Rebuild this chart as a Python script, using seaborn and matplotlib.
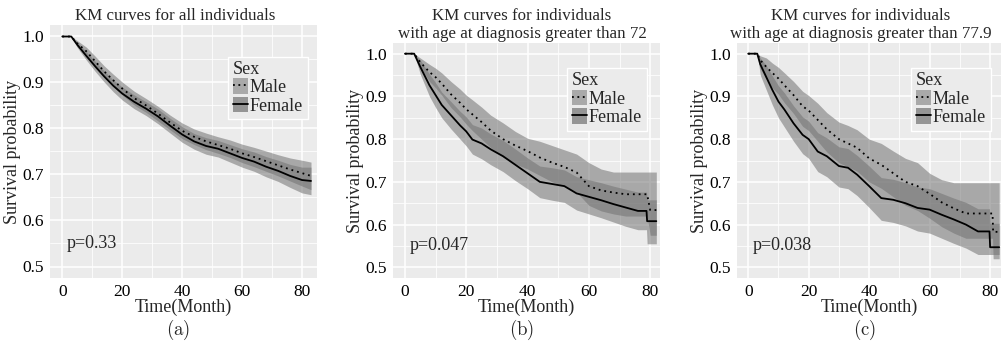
import numpy as np
import pandas as pd
import matplotlib
matplotlib.use("Agg")
import matplotlib.pyplot as plt
import seaborn as sns
from matplotlib.patches import Patch
from matplotlib.lines import Line2D
from matplotlib.legend_handler import HandlerTuple
from matplotlib.ticker import MultipleLocator

# ---- data ----
a_time = [0, 3, 5, 8, 11, 14, 17, 20, 24, 28, 32, 36, 40, 44, 48, 52, 56, 60, 64, 68, 72, 76, 80, 83]
a_female = [1, 1, 0.982, 0.958, 0.935, 0.913, 0.893, 0.876, 0.858, 0.843, 0.826, 0.806, 0.787, 0.772, 0.762, 0.756, 0.746, 0.736, 0.728, 0.717, 0.708, 0.697, 0.688, 0.686]
a_female_lo = [1, 1, 0.976, 0.949, 0.924, 0.901, 0.880, 0.862, 0.843, 0.828, 0.810, 0.790, 0.770, 0.755, 0.744, 0.738, 0.727, 0.716, 0.707, 0.695, 0.685, 0.672, 0.660, 0.656]
a_female_hi = [1, 1, 0.988, 0.967, 0.946, 0.925, 0.906, 0.890, 0.873, 0.858, 0.842, 0.822, 0.804, 0.789, 0.780, 0.774, 0.765, 0.756, 0.749, 0.739, 0.731, 0.722, 0.716, 0.716]
a_male = [1, 1, 0.985, 0.968, 0.946, 0.924, 0.905, 0.887, 0.866, 0.850, 0.832, 0.813, 0.795, 0.782, 0.772, 0.764, 0.756, 0.746, 0.738, 0.729, 0.720, 0.711, 0.703, 0.697]
a_male_lo = [1, 1, 0.979, 0.959, 0.935, 0.912, 0.892, 0.873, 0.851, 0.835, 0.816, 0.797, 0.778, 0.765, 0.754, 0.746, 0.737, 0.726, 0.717, 0.707, 0.697, 0.686, 0.675, 0.667]
a_male_hi = [1, 1, 0.991, 0.977, 0.957, 0.936, 0.918, 0.901, 0.881, 0.865, 0.848, 0.829, 0.812, 0.799, 0.790, 0.782, 0.775, 0.766, 0.759, 0.751, 0.743, 0.736, 0.731, 0.727]

b_time = [0, 3, 5, 8, 10, 12, 15, 18, 20, 22, 25, 28, 32, 36, 40, 44, 48, 52, 56, 60, 64, 68, 72, 76, 78.8, 79, 80, 82]
b_female = [1, 1, 0.969, 0.926, 0.903, 0.880, 0.856, 0.832, 0.818, 0.799, 0.790, 0.776, 0.760, 0.740, 0.720, 0.700, 0.695, 0.690, 0.673, 0.665, 0.657, 0.648, 0.640, 0.632, 0.632, 0.608, 0.608, 0.608]
b_female_lo = [1, 1, 0.952, 0.900, 0.874, 0.850, 0.824, 0.800, 0.784, 0.765, 0.754, 0.740, 0.724, 0.703, 0.684, 0.663, 0.657, 0.652, 0.634, 0.625, 0.616, 0.606, 0.596, 0.588, 0.588, 0.555, 0.555, 0.555]
b_female_hi = [1, 1, 0.985, 0.952, 0.932, 0.910, 0.888, 0.865, 0.852, 0.834, 0.826, 0.812, 0.797, 0.777, 0.756, 0.737, 0.733, 0.728, 0.712, 0.705, 0.698, 0.690, 0.683, 0.676, 0.676, 0.658, 0.658, 0.658]
b_male = [1, 1, 0.980, 0.957, 0.945, 0.930, 0.905, 0.885, 0.870, 0.858, 0.840, 0.820, 0.800, 0.785, 0.772, 0.757, 0.745, 0.735, 0.722, 0.690, 0.680, 0.675, 0.671, 0.671, 0.671, 0.671, 0.634, 0.634]
b_male_lo = [1, 1, 0.968, 0.935, 0.920, 0.903, 0.874, 0.852, 0.835, 0.820, 0.800, 0.780, 0.758, 0.742, 0.730, 0.715, 0.700, 0.690, 0.676, 0.645, 0.632, 0.625, 0.620, 0.620, 0.620, 0.620, 0.575, 0.575]
b_male_hi = [1, 1, 0.990, 0.975, 0.966, 0.955, 0.935, 0.917, 0.903, 0.892, 0.875, 0.856, 0.838, 0.818, 0.802, 0.795, 0.785, 0.775, 0.765, 0.745, 0.730, 0.723, 0.723, 0.723, 0.723, 0.723, 0.723, 0.723]

c_time = [0, 3, 4, 6, 8, 10, 12, 15, 18, 20, 23, 26, 30, 33, 36, 40, 44, 48, 52, 56, 60, 64, 68, 72, 76, 79.8, 80, 80.8, 81, 83]
c_female = [1, 1, 0.975, 0.945, 0.915, 0.888, 0.869, 0.837, 0.810, 0.800, 0.771, 0.760, 0.737, 0.733, 0.717, 0.690, 0.662, 0.658, 0.650, 0.639, 0.635, 0.623, 0.612, 0.600, 0.584, 0.584, 0.547, 0.547, 0.547, 0.547]
c_female_lo = [1, 1, 0.950, 0.915, 0.880, 0.850, 0.828, 0.795, 0.766, 0.755, 0.724, 0.712, 0.688, 0.684, 0.668, 0.640, 0.610, 0.605, 0.597, 0.585, 0.580, 0.568, 0.556, 0.545, 0.530, 0.530, 0.530, 0.530, 0.530, 0.530]
c_female_hi = [1, 1, 0.990, 0.972, 0.948, 0.925, 0.908, 0.878, 0.852, 0.842, 0.815, 0.803, 0.782, 0.778, 0.762, 0.737, 0.710, 0.706, 0.698, 0.688, 0.684, 0.673, 0.662, 0.652, 0.637, 0.637, 0.603, 0.603, 0.603, 0.603]
c_male = [1, 1, 0.985, 0.969, 0.955, 0.942, 0.926, 0.903, 0.877, 0.867, 0.845, 0.823, 0.800, 0.790, 0.780, 0.755, 0.740, 0.720, 0.700, 0.690, 0.672, 0.652, 0.638, 0.626, 0.626, 0.626, 0.626, 0.626, 0.583, 0.583]
c_male_lo = [1, 1, 0.965, 0.940, 0.920, 0.905, 0.885, 0.860, 0.830, 0.820, 0.795, 0.770, 0.745, 0.735, 0.725, 0.700, 0.685, 0.665, 0.645, 0.633, 0.615, 0.595, 0.580, 0.568, 0.568, 0.568, 0.568, 0.568, 0.520, 0.520]
c_male_hi = [1, 1, 0.995, 0.990, 0.978, 0.968, 0.955, 0.935, 0.912, 0.902, 0.884, 0.862, 0.840, 0.832, 0.822, 0.800, 0.790, 0.772, 0.755, 0.745, 0.720, 0.705, 0.698, 0.698, 0.698, 0.698, 0.698, 0.698, 0.698, 0.698]

titles = ["KM curves for all individuals",
          "KM curves for individuals\nwith age at diagnosis greater than 72",
          "KM curves for individuals\nwith age at diagnosis greater than 77.9"]
pvals = ["p=0.33", "p=0.047", "p=0.038"]
captions = ["(a)", "(b)", "(c)"]

panels = [
    (a_time, a_male, a_male_lo, a_male_hi, a_female, a_female_lo, a_female_hi),
    (b_time, b_male, b_male_lo, b_male_hi, b_female, b_female_lo, b_female_hi),
    (c_time, c_male, c_male_lo, c_male_hi, c_female, c_female_lo, c_female_hi),
]

sns.set_style("darkgrid", {"axes.facecolor": "#EBEBEB", "grid.color": "white"})
plt.rcParams["font.family"] = ["Liberation Serif", "DejaVu Serif"]
plt.rcParams["mathtext.fontset"] = "cm"

W, H = 1002, 343
fig = plt.figure(figsize=(W / 100, H / 100), dpi=100)

# axes boxes in pixels: left, top, right, bottom
boxes = [(50, 25, 317, 278), (393, 43, 660, 278), (737, 43, 1001, 278)]
xlims = [(-4.1, 85), (-3.9, 83.2), (-3.7, 83.6)]
legend_anchor = [(0.667, 0.875), (0.652, 0.894), (0.66, 0.894)]
title_x = [175, 522, 861]
title_y = [16, 25, 25]

band_color = "#727272"
FS = 13

for i, (t, m, mlo, mhi, f, flo, fhi) in enumerate(panels):
    l, tp, r, b = boxes[i]
    ax = fig.add_axes([l / W, 1 - b / H, (r - l) / W, (b - tp) / H])

    df = pd.DataFrame({
        "time": t * 2,
        "surv": m + f,
        "lo": mlo + flo,
        "hi": mhi + fhi,
        "Sex": ["Male"] * len(t) + ["Female"] * len(t),
    })

    for sex in ["Male", "Female"]:
        d = df[df["Sex"] == sex]
        ax.fill_between(d["time"], d["lo"], d["hi"],
                        color=band_color, alpha=0.55, lw=0)
    for sex, ls in [("Male", (0, (1, 2.2))), ("Female", "-")]:
        d = df[df["Sex"] == sex]
        sns.lineplot(data=d, x="time", y="surv", ax=ax, color="black",
                     linestyle=ls, lw=1.3, estimator=None, legend=False)

    ax.set_xlim(*xlims[i])
    ax.set_ylim(0.475, 1.025)
    ax.xaxis.set_major_locator(MultipleLocator(20))
    ax.xaxis.set_minor_locator(MultipleLocator(10))
    ax.yaxis.set_major_locator(MultipleLocator(0.1))
    ax.yaxis.set_minor_locator(MultipleLocator(0.05))
    ax.set_yticklabels([f"{v:.1f}" for v in ax.get_yticks()])
    ax.grid(which="major", color="white", lw=1.1)
    ax.grid(which="minor", color="white", lw=0.55)
    ax.tick_params(which="major", length=3, width=0.8, color="#333333",
                   labelsize=12.5, labelcolor="black", pad=1.5)
    ax.tick_params(which="minor", length=0)
    for s in ax.spines.values():
        s.set_visible(False)

    ax.set_xlabel("Time(Month)", fontsize=FS, labelpad=-1)
    ax.set_ylabel("Survival probability", fontsize=FS, labelpad=0.5)
    ax.text(1.5, 0.55, pvals[i], fontsize=FS, va="center", ha="left")

    handles = [(Patch(facecolor="#a9a9a9", lw=0), Line2D([], [], color="black", ls=(0, (1, 2)), lw=1.3)),
               (Patch(facecolor="#959595", lw=0), Line2D([], [], color="black", ls="-", lw=1.3))]
    leg = ax.legend(handles, ["Male", "Female"], title="Sex",
                    handler_map={tuple: HandlerTuple(ndivide=1)},
                    loc="upper left", bbox_to_anchor=legend_anchor[i],
                    fontsize=FS, title_fontsize=FS, frameon=True, fancybox=False,
                    framealpha=1, edgecolor="white", borderpad=0.25,
                    handlelength=0.85, handleheight=0.95, handletextpad=0.1,
                    labelspacing=0.02, borderaxespad=0)
    leg._legend_box.align = "left"

    fig.text(title_x[i] / W, 1 - title_y[i] / H, titles[i], fontsize=12.2,
             ha="center", va="center", linespacing=1.25)
    cx = (l + r) / 2 - 5
    fig.text(cx / W, 1 - 330 / H, r"$\mathrm{" + captions[i] + "}$",
             fontsize=13.5, ha="center", va="center")

fig.savefig("out.png", dpi=100)
